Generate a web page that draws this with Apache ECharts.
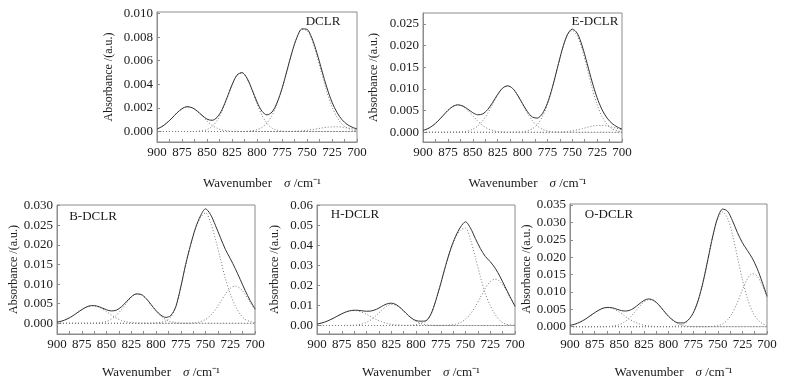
<!DOCTYPE html>
<html>
<head>
<meta charset="utf-8">
<script src="https://cdn.jsdelivr.net/npm/echarts@6/dist/echarts.min.js"></script>
<style>
html,body{margin:0;padding:0;background:#fff}
#main{width:789px;height:381px}
</style>
</head>
<body>
<div id="main"></div>
<script>
// wavenumber grid, cm-1 (900 -> 700, every 5)
var wn = [900,895,890,885,880,875,870,865,860,855,850,845,840,835,830,825,820,815,810,805,
          800,795,790,785,780,775,770,765,760,755,750,745,740,735,730,725,720,715,710,705,700];
var xLabels = [900,875,850,825,800,775,750,725,700];

// DCLR
var dclrSum = [0.00021,0.00042,0.00074,0.00114,0.00158,0.00193,0.00210,0.00202,0.00175,0.00138,
  0.00105,0.00095,0.00119,0.00185,0.00286,0.00395,0.00478,0.00499,0.00452,0.00356,
  0.00251,0.00171,0.00141,0.00165,0.00243,0.00364,0.00517,0.00672,0.00799,0.00870,
  0.00866,0.00790,0.00663,0.00513,0.00369,0.00249,0.00161,0.00100,0.00061,0.00037,0.00022];
var dclrC1 = [0.00021,0.00042,0.00074,0.00114,0.00158,0.00193,0.00210,0.00202,0.00173,0.00132,
  0.00089,0.00053,0.00028,0.00013,0.00006,0.00002,0.00001,
  0,0,0,0,0, 0,0,0,0,0, 0,0,0,0,0, 0,0,0,0,0, 0,0,0,0];
var dclrC2 = [0,0,0,0,0, 0,0,0,
  0.00002,0.00006,0.00016,0.00042,0.00091,0.00172,0.00280,0.00393,0.00477,0.00499,
  0.00450,0.00350,0.00235,0.00136,0.00068,0.00029,0.00011,0.00003,0.00001,
  0,0,0,0,0, 0,0,0,0,0, 0,0,0,0];
var dclrC3 = [0,0,0,0,0, 0,0,0,0,0, 0,0,0,0,0, 0,0,0,
  0.00002,0.00006,0.00016,0.00035,0.00073,0.00136,0.00232,0.00361,0.00515,0.00670,
  0.00796,0.00864,0.00856,0.00774,0.00640,0.00483,0.00333,0.00210,0.00121,0.00063,
  0.00030,0.00013,0.00005];
var dclrC4 = [0,0,0,0,0, 0,0,0,0,0, 0,0,0,0,0, 0,0,0,0,0, 0,0,0,0,0, 0,
  0.00001,0.00002,0.00003,0.00006,0.00010,0.00016,0.00023,0.00030,0.00036,0.00039,
  0.00040,0.00037,0.00031,0.00024,0.00017];
var dclrTicks = [0,0.002,0.004,0.006,0.008,0.010];

// E-DCLR
var edclrSum = [0.00042,0.00085,0.00157,0.00259,0.00382,0.00504,0.00597,0.00634,0.00608,0.00535,
  0.00453,0.00404,0.00424,0.00525,0.00691,0.00875,0.01020,0.01072,0.01015,0.00861,
  0.00662,0.00475,0.00351,0.00328,0.00432,0.00670,0.01035,0.01479,0.01918,0.02249,
  0.02383,0.02287,0.01992,0.01585,0.01162,0.00796,0.00520,0.00328,0.00204,0.00125,0.00074];
var edclrC1 = [0.00042,0.00085,0.00157,0.00259,0.00382,0.00504,0.00596,0.00630,0.00596,0.00504,
  0.00382,0.00259,0.00157,0.00085,0.00042,0.00018,0.00007,0.00002,0.00001,
  0,0,0,0,0, 0,0,0,0,0, 0,0,0,0,0, 0,0,0,0,0, 0,0];
var edclrC2 = [0,0,0,0,0, 0,
  0.00001,0.00004,0.00012,0.00031,0.00071,0.00145,0.00267,0.00440,0.00649,0.00857,
  0.01013,0.01070,0.01013,0.00857,0.00649,0.00440,0.00267,0.00145,0.00071,0.00031,
  0.00012,0.00004,0.00001,
  0,0,0,0,0, 0,0,0,0,0, 0,0];
var edclrC3 = [0,0,0,0,0, 0,0,0,0,0, 0,0,0,0,0, 0,0,0,
  0.00001,0.00004,0.00013,0.00035,0.00084,0.00183,0.00361,0.00639,0.01021,0.01471,
  0.01908,0.02231,0.02350,0.02231,0.01908,0.01471,0.01021,0.00639,0.00361,0.00183,
  0.00084,0.00035,0.00013];
var edclrC4 = [0,0,0,0,0, 0,0,0,0,0, 0,0,0,0,0, 0,0,0,0,0, 0,0,0,0,0, 0,
  0.00002,0.00004,0.00009,0.00018,0.00033,0.00056,0.00084,0.00114,0.00141,0.00157,
  0.00159,0.00145,0.00120,0.00090,0.00061];
var edclrTicks = [0,0.005,0.010,0.015,0.020,0.025];

// B-DCLR
var bdclrSum = [0.00029,0.00058,0.00107,0.00176,0.00261,0.00348,0.00418,0.00451,0.00442,0.00398,
  0.00345,0.00315,0.00336,0.00420,0.00547,0.00676,0.00749,0.00735,0.00633,0.00479,
  0.00324,0.00206,0.00151,0.00200,0.00426,0.00925,0.01504,0.02006,0.02437,0.02744,
  0.02920,0.02779,0.02499,0.02191,0.01890,0.01652,0.01400,0.01122,0.00840,0.00586,0.00369];
var bdclrC1 = [0.00029,0.00058,0.00107,0.00176,0.00261,0.00348,0.00417,0.00449,0.00435,0.00379,
  0.00297,0.00209,0.00132,0.00075,0.00038,0.00018,0.00007,0.00003,0.00001,
  0,0,0,0,0, 0,0,0,0,0, 0,0,0,0,0, 0,0,0,0,0, 0,0];
var bdclrC2 = [0,0,0,0,0, 0,
  0.00001,0.00002,0.00007,0.00019,0.00048,0.00106,0.00204,0.00345,0.00509,0.00658,
  0.00742,0.00732,0.00632,0.00476,0.00314,0.00181,0.00091,0.00040,0.00016,0.00005,0.00002,
  0,0,0,0,0, 0,0,0,0,0, 0,0,0,0];
var bdclrC3 = [0,0,0,0,0, 0,0,0,0,0, 0,0,0,0,0, 0,0,0,0,
  0.00003,0.00010,0.00025,0.00060,0.00160,0.00410,0.00920,0.01500,0.02000,0.02420,
  0.02700,0.02820,0.02580,0.02150,0.01650,0.01150,0.00760,0.00450,0.00230,0.00100,
  0.00045,0.00020];
var bdclrC4 = [0,0,0,0,0, 0,0,0,0,0, 0,0,0,0,0, 0,0,0,0,0, 0,0,0,0,0, 0,
  0.00002,0.00006,0.00017,0.00044,0.00100,0.00199,0.00349,0.00541,0.00740,0.00892,
  0.00950,0.00892,0.00740,0.00541,0.00349];
var bdclrTicks = [0,0.005,0.010,0.015,0.020,0.025,0.030];

// H-DCLR
var hdclrSum = [0.00071,0.00128,0.00213,0.00326,0.00456,0.00586,0.00692,0.00754,0.00764,0.00740,
  0.00715,0.00730,0.00811,0.00944,0.01071,0.01119,0.01044,0.00855,0.00611,0.00385,
  0.00245,0.00216,0.00239,0.00564,0.01255,0.02104,0.03009,0.03826,0.04466,0.04932,
  0.05194,0.04879,0.04354,0.03857,0.03458,0.03195,0.02870,0.02435,0.01938,0.01437,0.00964];
var hdclrC1 = [0.00071,0.00128,0.00213,0.00326,0.00456,0.00585,0.00689,0.00745,0.00738,0.00672,
  0.00561,0.00429,0.00301,0.00194,0.00115,0.00062,0.00031,0.00014,0.00006,0.00002,0.00001,
  0,0,0,0,0, 0,0,0,0,0, 0,0,0,0,0, 0,0,0,0,0];
var hdclrC2 = [0,0,0,0,0,
  0.00001,0.00003,0.00009,0.00026,0.00068,0.00154,0.00301,0.00510,0.00750,0.00956,
  0.01057,0.01013,0.00841,0.00605,0.00378,0.00204,0.00096,0.00039,0.00014,0.00004,0.00001,
  0,0,0,0,0, 0,0,0,0,0, 0,0,0,0,0];
var hdclrC3 = [0,0,0,0,0, 0,0,0,0,0, 0,0,0,0,0, 0,0,0,0,
  0.00005,0.00040,0.00120,0.00200,0.00550,0.01250,0.02100,0.03000,0.03800,0.04400,
  0.04780,0.04880,0.04300,0.03400,0.02450,0.01600,0.01000,0.00550,0.00240,0.00080,
  0.00030,0.00010];
var hdclrC4 = [0,0,0,0,0, 0,0,0,0,0, 0,0,0,0,0, 0,0,0,0,0, 0,0,0,0,
  0.00001,0.00003,0.00009,0.00026,0.00066,0.00152,0.00314,0.00579,0.00954,0.01407,
  0.01858,0.02195,0.02320,0.02195,0.01858,0.01407,0.00954];
var hdclrTicks = [0,0.01,0.02,0.03,0.04,0.05,0.06];

// O-DCLR
var odclrSum = [0.00038,0.00073,0.00129,0.00207,0.00302,0.00402,0.00489,0.00544,0.00555,0.00527,
  0.00481,0.00451,0.00465,0.00537,0.00648,0.00753,0.00799,0.00756,0.00633,0.00463,
  0.00300,0.00177,0.00110,0.00109,0.00193,0.00391,0.00746,0.01274,0.01934,0.02610,
  0.03139,0.03383,0.03319,0.03045,0.02705,0.02417,0.02195,0.01972,0.01675,0.01291,0.00882];
var odclrC1 = [0.00038,0.00073,0.00129,0.00207,0.00302,0.00402,0.00488,0.00541,0.00546,0.00502,
  0.00421,0.00322,0.00224,0.00143,0.00083,0.00044,0.00021,0.00009,0.00004,0.00001,
  0,0,0,0,0, 0,0,0,0,0, 0,0,0,0,0, 0,0,0,0,0, 0];
var odclrC2 = [0,0,0,0,0, 0,
  0.00001,0.00003,0.00009,0.00025,0.00060,0.00129,0.00241,0.00394,0.00565,0.00709,
  0.00778,0.00747,0.00629,0.00462,0.00298,0.00168,0.00083,0.00036,0.00014,0.00004,0.00001,
  0,0,0,0,0, 0,0,0,0,0, 0,0,0,0];
var odclrC3 = [0,0,0,0,0, 0,0,0,0,0, 0,0,0,0,0, 0,0,0,0,0,
  0.00002,0.00009,0.00027,0.00073,0.00179,0.00387,0.00745,0.01273,0.01931,0.02601,
  0.03109,0.03300,0.03122,0.02643,0.02001,0.01357,0.00823,0.00447,0.00217,0.00094,0.00037];
var odclrC4 = [0,0,0,0,0, 0,0,0,0,0, 0,0,0,0,0, 0,0,0,0,0, 0,0,0,0,0, 0,0,
  0.00001,0.00003,0.00009,0.00030,0.00083,0.00197,0.00402,0.00704,0.01060,0.01372,
  0.01525,0.01458,0.01197,0.00845];
var odclrTicks = [0,0.005,0.010,0.015,0.020,0.025,0.030,0.035];

var FONT = 'Liberation Serif';
var AXIS = '#8c8c8c';
var TXT = '#1a1a1a';

var panels = [
  {name:'DCLR', sum:dclrSum, parts:[dclrC1,dclrC2,dclrC3,dclrC4], ticks:dclrTicks, dec:3,
   yMin:-0.00089, yMax:0.01013, grid:{left:157,top:12,width:200,height:130}, tx:323, ty:22, yGap:42, xGap:35},
  {name:'E-DCLR', sum:edclrSum, parts:[edclrC1,edclrC2,edclrC3,edclrC4], ticks:edclrTicks, dec:3,
   yMin:-0.00224, yMax:0.02754, grid:{left:423,top:13,width:199,height:129}, tx:595, ty:22, yGap:43, xGap:35},
  {name:'B-DCLR', sum:bdclrSum, parts:[bdclrC1,bdclrC2,bdclrC3,bdclrC4], ticks:bdclrTicks, dec:3,
   yMin:-0.00273, yMax:0.03018, grid:{left:57,top:205,width:198,height:129}, tx:93, ty:217, yGap:35, xGap:32},
  {name:'H-DCLR', sum:hdclrSum, parts:[hdclrC1,hdclrC2,hdclrC3,hdclrC4], ticks:hdclrTicks, dec:2,
   yMin:-0.00426, yMax:0.06035, grid:{left:317,top:205,width:198,height:129}, tx:355, ty:215, yGap:36, xGap:32},
  {name:'O-DCLR', sum:odclrSum, parts:[odclrC1,odclrC2,odclrC3,odclrC4], ticks:odclrTicks, dec:3,
   yMin:-0.0021, yMax:0.03529, grid:{left:570,top:204,width:197,height:130}, tx:609, ty:215, yGap:37, xGap:32}
];

function pairs(vals){
  if (vals.length !== wn.length) console.error('length mismatch', vals.length);
  return wn.map(function(w,i){ return [w, vals[i]]; });
}

var grids = [], xAxes = [], yAxes = [], series = [], texts = [];

panels.forEach(function(p, i){
  grids.push(Object.assign({show:true, borderColor:AXIS, borderWidth:1, containLabel:false}, p.grid));
  xAxes.push({
    gridIndex:i, type:'value', min:700, max:900, interval:25, inverse:true,
    axisLine:{onZero:false, lineStyle:{color:AXIS, width:1}},
    axisTick:{inside:true, length:3, lineStyle:{color:AXIS}},
    minorTick:{show:true, splitNumber:2, length:3, lineStyle:{color:AXIS}},
    splitLine:{show:false},
    axisLabel:{fontFamily:FONT, fontSize:13, color:TXT, margin:4,
      customValues:xLabels, formatter:function(v){ return String(Math.round(v)); }},
    name:'Wavenumber{i|σ} /cm⁻¹', nameLocation:'middle', nameGap:p.xGap,
    nameTextStyle:{fontFamily:FONT, fontSize:13, color:TXT, padding:[0,0,0,10],
      rich:{i:{fontFamily:FONT, fontSize:13, fontStyle:'italic', color:TXT, padding:[0,0,0,12]}}}
  });
  yAxes.push({
    gridIndex:i, type:'value', min:p.yMin, max:p.yMax,
    axisLine:{show:true, lineStyle:{color:AXIS, width:1}},
    axisTick:{show:true, inside:true, length:3, customValues:p.ticks, lineStyle:{color:AXIS}},
    splitLine:{show:false},
    axisLabel:{fontFamily:FONT, fontSize:13, color:TXT, margin:4, customValues:p.ticks,
      formatter:(function(d){ return function(v){ return v.toFixed(d); }; })(p.dec)},
    name:'Absorbance /(a.u.)', nameLocation:'middle', nameGap:p.yGap,
    nameTextStyle:{fontFamily:FONT, fontSize:12, color:TXT}
  });
  p.parts.forEach(function(c){
    series.push({type:'line', xAxisIndex:i, yAxisIndex:i, data:pairs(c), smooth:0.3,
      showSymbol:false, silent:true, lineStyle:{color:'#7a7a7a', width:1, type:[1,2]}});
  });
  series.push({type:'line', xAxisIndex:i, yAxisIndex:i, data:pairs(p.sum), smooth:0.3,
    showSymbol:false, silent:true, lineStyle:{color:'#333', width:1}});
  texts.push({type:'text', x:p.tx, y:p.ty, silent:true,
    style:{text:p.name, fill:TXT, font:'13px "Liberation Serif"', align:'center', verticalAlign:'middle'}});
});

var chart = echarts.init(document.getElementById('main'));
chart.setOption({
  animation:false,
  backgroundColor:'#fff',
  grid:grids, xAxis:xAxes, yAxis:yAxes, series:series,
  graphic:texts
});
</script>
</body>
</html>
